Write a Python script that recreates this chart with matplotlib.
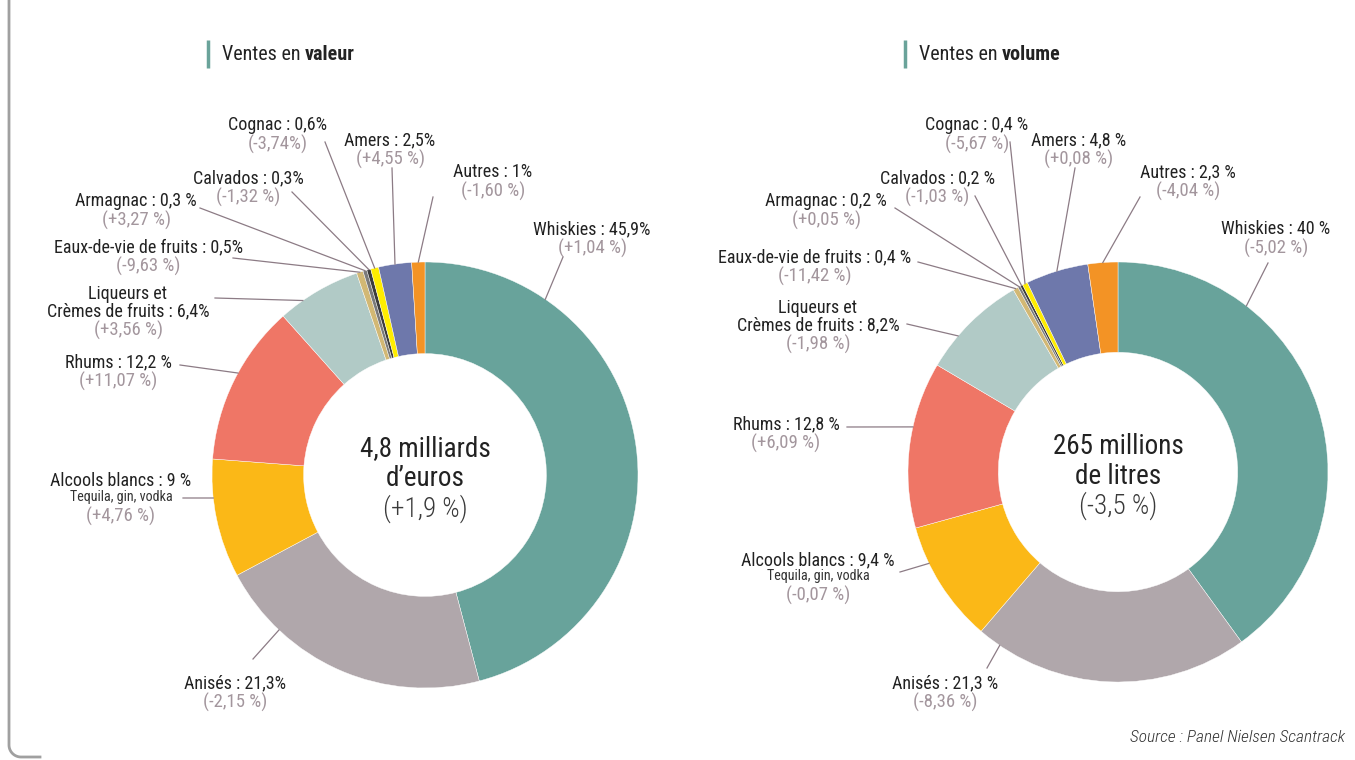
import matplotlib.pyplot as plt
import numpy as np

plt.rcParams['font.family'] = ['Roboto Condensed', 'DejaVu Sans']

# categories, in clockwise order from the top
categories = ['Whiskies', 'Anisés', 'Alcools blancs', 'Rhums', 'Liqueurs',
              'Eaux-de-vie', 'Armagnac', 'Calvados', 'Cognac', 'Amers', 'Autres']
colors = ['#68a39b', '#b0a7ab', '#fbb817', '#ef7666', '#b1cac6',
          '#d2b874', '#7a7a7a', '#3c3c3c', '#ffed00', '#6e78ab', '#f39325']

share_valeur = [45.9, 21.3, 9, 12.2, 6.4, 0.5, 0.3, 0.3, 0.6, 2.5, 1]
share_volume = [40, 21.3, 9.4, 12.8, 8.2, 0.4, 0.2, 0.2, 0.4, 4.8, 2.3]

labels_valeur = ['Whiskies : 45,9%', 'Anisés : 21,3%', 'Alcools blancs : 9 %', 'Rhums : 12,2 %',
                 'Liqueurs et\nCrèmes de fruits : 6,4%', 'Eaux-de-vie de fruits : 0,5%',
                 'Armagnac : 0,3 %', 'Calvados : 0,3%', 'Cognac : 0,6%', 'Amers : 2,5%', 'Autres : 1%']
labels_volume = ['Whiskies : 40 %', 'Anisés : 21,3 %', 'Alcools blancs : 9,4 %', 'Rhums : 12,8 %',
                 'Liqueurs et\nCrèmes de fruits : 8,2%', 'Eaux-de-vie de fruits : 0,4 %',
                 'Armagnac : 0,2 %', 'Calvados : 0,2 %', 'Cognac : 0,4 %', 'Amers : 4,8 %', 'Autres : 2,3 %']

change_valeur = ['(+1,04 %)', '(-2,15 %)', '(+4,76 %)', '(+11,07 %)', '(+3,56 %)', '(-9,63 %)',
                 '(+3,27 %)', '(-1,32 %)', '(-3,74%)', '(+4,55 %)', '(-1,60 %)']
change_volume = ['(-5,02 %)', '(-8,36 %)', '(-0,07 %)', '(+6,09 %)', '(-1,98 %)', '(-11,42 %)',
                 '(+0,05 %)', '(-1,03 %)', '(-5,67 %)', '(+0,08 %)', '(-4,04 %)']

center_valeur = ['4,8 milliards', 'd\u2019euros', '(+1,9 %)']
center_volume = ['265 millions', 'de litres', '(-3,5 %)']

W, H = 1355, 760

# layout (image pixel coordinates, y downward)
layout = [
    dict(title='valeur', cx=425, cy=475, r=213, shares=share_valeur, labels=labels_valeur,
         changes=change_valeur, center=center_valeur, tx=208,
         pos=[(592, 229), (235, 683), (121, 481), (118, 362), (128, 294), (148, 247),
              (136, 201), (248, 178), (278, 125), (390, 140), (493, 172)],
         start=[(563, 257), (253, 659), (183, 498), (180, 365), (215, 298), (233, 258),
                (200, 208), (292, 192), (325, 142), (392, 168), (433, 197)],
         angle={0: 55.6, 1: 226.7, 2: 186.2, 3: 151.4, 4: 125}),
    dict(title='volume', cx=1118, cy=472, r=210, shares=share_volume, labels=labels_volume,
         changes=change_volume, center=center_volume, tx=905,
         pos=[(1276, 229), (945, 683), (818, 560), (786, 424), (818, 308), (815, 257),
              (826, 201), (937, 178), (977, 125), (1079, 140), (1188, 172)],
         start=[(1268, 263), (987, 668), (900, 572), (847, 427), (907, 324), (918, 262),
                (895, 208), (975, 196), (1010, 142), (1075, 168), (1140, 197)],
         angle={0: 52.3, 1: 235.7, 2: 205.8, 3: 167.6, 4: 139.6}),
]

fig = plt.figure(figsize=(W / 100, H / 100), dpi=100)
ax = fig.add_axes([0, 0, 1, 1])

line_col = '#8c7b85'
chg_col = '#a3969d'
txt_col = '#222222'
fs = 13

for c in layout:
    cx, cy, r = c['cx'], H - c['cy'], c['r']
    ax.pie(c['shares'], colors=colors, startangle=90, counterclock=False, radius=r,
           center=(cx, cy), wedgeprops=dict(width=r * 0.43, edgecolor='white', linewidth=0.3))

    cum = np.cumsum([0] + c['shares'])
    for i, lab in enumerate(c['labels']):
        a0 = 90 - 360 * cum[i] / 100
        a1 = 90 - 360 * cum[i + 1] / 100
        ang = c['angle'].get(i, (a0 + a1) / 2)
        ex = cx + r * np.cos(np.radians(ang))
        ey = cy + r * np.sin(np.radians(ang))
        sx, sy = c['start'][i]
        ax.plot([sx, ex], [H - sy, ey], color=line_col, lw=0.9, zorder=1)

        px, py = c['pos'][i]
        y = py
        for k, part in enumerate(lab.split('\n')):
            y = py + 17 * k
            ax.text(px, H - y, part, ha='center', va='center', fontsize=fs, color=txt_col)
        if lab.startswith('Alcools'):
            y = py + 16
            ax.text(px, H - y, 'Tequila, gin, vodka', ha='center', va='center',
                    fontsize=10.2, color='#333333')
        ax.text(px, H - y - 19.5, c['changes'][i], ha='center', va='center', fontsize=13.5,
                color=chg_col, fontweight='normal')

    for k, s in enumerate(c['center']):
        ax.text(cx, H - c['cy'] + 26 - 30 * k, s, ha='center', va='center', fontsize=19.5,
                color=txt_col if k < 2 else '#3a3a3a', fontweight='normal' if k < 2 else 'light')

    # title with small bar
    ax.plot([c['tx'], c['tx']], [H - 40, H - 68], color='#6aa39a', lw=2.5, solid_capstyle='butt')
    t1 = ax.text(c['tx'] + 14, H - 54, 'Ventes en ', ha='left', va='center', fontsize=14.5,
                 color=txt_col)
    ax.annotate(c['title'], xy=(1, 0), xycoords=t1, ha='left', va='bottom', fontsize=14.5,
                fontweight='bold', color=txt_col)

# left frame line with rounded corner
arc = np.linspace(np.pi, 1.5 * np.pi, 20)
fx = np.concatenate([[9, 9], 21 + 12 * np.cos(arc), [40]])
fy = np.concatenate([[H, 15], 15 + 12 * np.sin(arc), [3]])
ax.plot(fx, fy, color='#a0a0a0', lw=2)

ax.text(1345, H - 738, 'Source : Panel Nielsen Scantrack', ha='right', va='center',
        fontsize=12.5, style='italic', fontweight='light', color='#333333')

ax.set_xlim(0, W)
ax.set_ylim(0, H)
ax.set_aspect('equal')
ax.axis('off')

fig.savefig('out.png', dpi=100)
